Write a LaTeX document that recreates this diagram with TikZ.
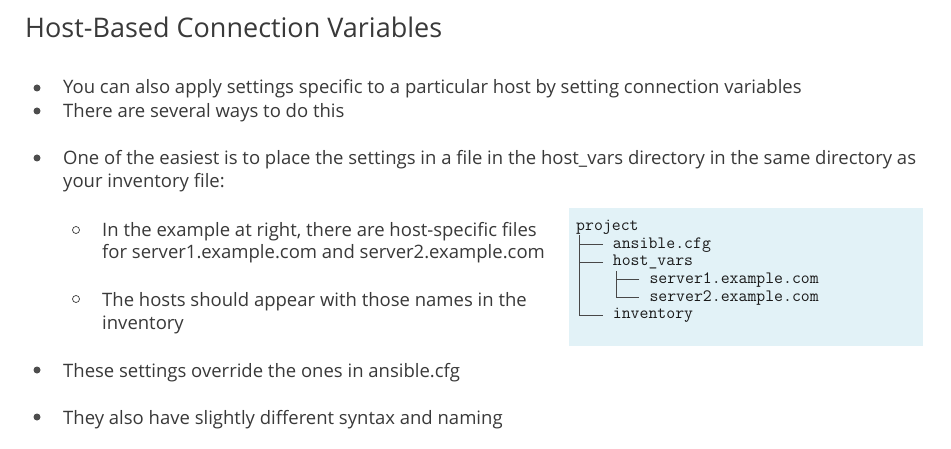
\documentclass[tikz,border=0pt]{standalone}
\usepackage{fontspec}
\setmainfont{Open Sans}
\usetikzlibrary{positioning}
\definecolor{slidetext}{HTML}{393939}
\definecolor{codebg}{HTML}{E2F2F7}
\definecolor{codetext}{HTML}{1A1A1A}
\tikzset{
  heading/.style={anchor=base west, inner sep=0pt, text=slidetext, font=\fontsize{27}{32}\selectfont},
  item/.style={anchor=base west, inner sep=0pt, text=slidetext, font=\fontsize{18.5}{22}\selectfont},
  dot/.style={circle, fill=slidetext!90, inner sep=0pt, minimum size=7pt},
  ring/.style={circle, draw=slidetext, line width=0.7pt, inner sep=0pt, minimum size=7pt},
  code/.style={anchor=base west, inner sep=0pt, text=codetext, font=\ttfamily\fontsize{17.3}{18}\selectfont},
  branch/.style={draw=codetext!80, line width=0.8pt}
}

\begin{document}
\begin{tikzpicture}[x=1pt,y=-1pt]
	\useasboundingbox[fill=white] (0,0) rectangle (951,449);
	\node[heading] (title) at (25,38) {Host-Based Connection Variables};
	% bullets
	\node[dot] (b1) at (37,88) {};
	\node[item] (t1) at (63,94) {You can also apply settings specific to a particular host by setting connection variables};
	\node[dot] (b2) at (37,111) {};
	\node[item] (t2) at (63,118) {There are several ways to do this};
	\node[dot] (b3) at (37,158) {};
	\node[item] (t3) at (63,165) {One of the easiest is to place the settings in a file in the host\_vars directory in the same directory as};
	\node[item] (t3b) at (63,188) {your inventory file:};
	\node[ring] (s1b) at (76,230) {};
	\node[item] (u1) at (102,237) {In the example at right, there are host-specific files};
	\node[item] (u1b) at (102,259) {for server1.example.com and server2.example.com};
	\node[ring] (s2b) at (76,299) {};
	\node[item] (u2) at (102,306) {The hosts should appear with those names in the};
	\node[item] (u2b) at (102,329) {inventory};
	\node[dot] (b4) at (37,370) {};
	\node[item] (t4) at (63,377) {These settings override the ones in ansible.cfg};
	\node[dot] (b5) at (37,417) {};
	\node[item] (t5) at (63,424) {They also have slightly different syntax and naming};
	% directory tree
	\fill[codebg] (569,208) rectangle (923,346);
	\node[code] (proj) at (576,230.7) {project};
	\node[code] (cfg) at (612.7,248.3) {ansible.cfg};
	\node[code] (hv) at (612.7,266) {host\_vars};
	\node[code] (srv1) at (649.3,283.7) {server1.example.com};
	\node[code] (srv2) at (649.3,301.3) {server2.example.com};
	\node[code] (inv) at (612.7,319) {inventory};
	\coordinate (trunk) at (579,235);
	\coordinate (subtrunk) at (616.7,271.5);
	\draw[branch] (trunk) |- ([shift={(-9.5,-4)}]inv.base west);
	\foreach \n in {cfg,hv}
		\draw[branch] ([shift={(-9.5,-4)}]\n.base west) -| (trunk);
	\draw[branch] (subtrunk) |- ([shift={(-10,-4)}]srv2.base west);
	\draw[branch] ([shift={(-10,-4)}]srv1.base west) -| (subtrunk);
\end{tikzpicture}
\end{document}
